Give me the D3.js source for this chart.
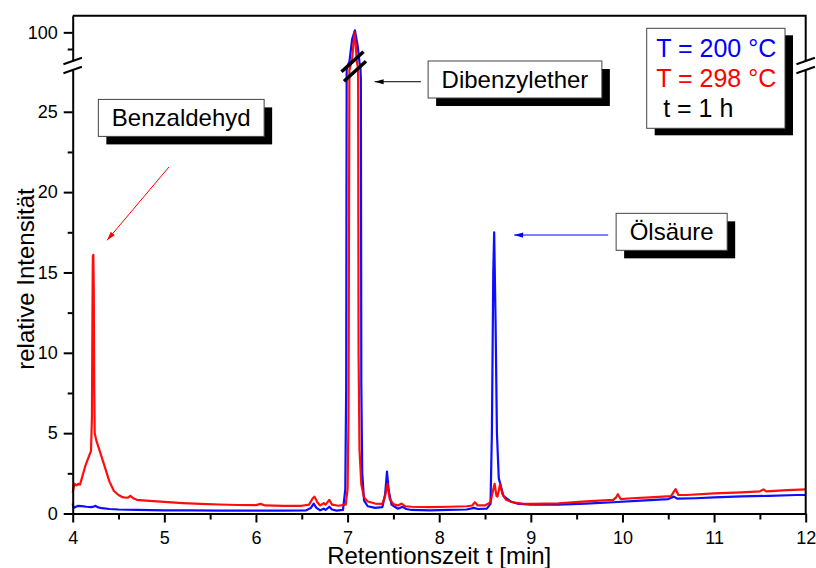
<!DOCTYPE html>
<html>
<head>
<meta charset="utf-8">
<script src="https://cdn.jsdelivr.net/npm/d3@7"></script>
<style>
  html, body { margin: 0; padding: 0; background: #fff; }
  svg { display: block; }
  text { font-family: "Liberation Sans", Arial, Helvetica, sans-serif; }
</style>
</head>
<body>
<svg id="chart" width="816" height="568"></svg>
<script>
// Retention time (min) and relative intensity, run at T = 200 °C
const t200 = [4.00, 4.01, 4.03, 4.06, 4.10, 4.15, 4.20, 4.23, 4.25, 4.27, 4.32, 4.40, 4.50, 4.70,
  5.00, 5.30, 5.60, 6.00, 6.30, 6.55, 6.60, 6.63, 6.66, 6.70, 6.74, 6.76, 6.80, 6.83, 6.88, 6.95,
  6.975, 6.985, 6.99, 7.00, 7.02, 7.05, 7.08, 7.11, 7.13, 7.14, 7.145, 7.15, 7.16, 7.18, 7.22,
  7.30, 7.38, 7.41, 7.43, 7.45, 7.48, 7.52, 7.55, 7.60, 7.64, 7.70, 7.90, 8.10, 8.30, 8.38, 8.42,
  8.52, 8.56, 8.575, 8.59, 8.60, 8.615, 8.63, 8.65, 8.70, 8.78, 8.85, 9.00, 9.30, 9.60, 9.90,
  10.20, 10.50, 10.56, 10.60, 10.80, 11.00, 11.30, 11.60, 11.90, 12.00];
const i200 = [0.62, 0.35, 0.40, 0.48, 0.46, 0.42, 0.40, 0.43, 0.48, 0.40, 0.33, 0.28, 0.25, 0.22,
  0.20, 0.19, 0.18, 0.18, 0.18, 0.20, 0.35, 0.62, 0.35, 0.20, 0.30, 0.22, 0.42, 0.25, 0.18, 0.22,
  1.5, 8, 28, 60, 90, 99, 100.3, 98, 85, 50, 27, 8, 2.5, 0.8, 0.45,
  0.35, 0.40, 1.2, 2.6, 1.4, 0.55, 0.40, 0.30, 0.42, 0.28, 0.22, 0.20, 0.22, 0.25, 0.35, 0.28,
  0.30, 0.6, 5, 15, 17.5, 12, 5, 2.2, 1.1, 0.75, 0.62, 0.55, 0.55, 0.62, 0.70,
  0.80, 0.90, 1.05, 0.92, 0.95, 1.00, 1.06, 1.10, 1.15, 1.15];

// Retention time (min) and relative intensity, run at T = 298 °C
const t298 = [4.00, 4.01, 4.02, 4.04, 4.06, 4.08, 4.10, 4.14, 4.18, 4.20, 4.21, 4.215, 4.22, 4.225,
  4.23, 4.235, 4.24, 4.26, 4.30, 4.35, 4.40, 4.45, 4.50, 4.55, 4.60, 4.63, 4.66, 4.70, 4.80,
  5.00, 5.20, 5.40, 5.60, 5.80, 6.00, 6.05, 6.10, 6.30, 6.50, 6.58, 6.62, 6.64, 6.67, 6.70, 6.74,
  6.76, 6.80, 6.83, 6.90, 6.98, 7.00, 7.01, 7.02, 7.035, 7.05, 7.075, 7.09, 7.10, 7.11, 7.115,
  7.12, 7.13, 7.15, 7.18, 7.22, 7.30, 7.38, 7.41, 7.435, 7.46, 7.50, 7.55, 7.59, 7.63, 7.70,
  7.90, 8.10, 8.30, 8.36, 8.39, 8.42, 8.50, 8.56, 8.59, 8.605, 8.625, 8.635, 8.65, 8.665, 8.69,
  8.73, 8.80, 8.90, 9.00, 9.30, 9.60, 9.90, 9.93, 9.95, 9.98, 10.10, 10.30, 10.53, 10.56, 10.58,
  10.61, 10.70, 11.00, 11.30, 11.50, 11.54, 11.57, 11.80, 12.00];
const i298 = [1.3, 1.6, 1.85, 1.75, 1.85, 1.8, 2.2, 3.0, 3.6, 3.9, 6, 12, 16, 16.1,
  14, 8, 5, 4.5, 3.8, 2.9, 2.0, 1.4, 1.15, 1.0, 0.98, 1.1, 0.95, 0.85, 0.80,
  0.72, 0.65, 0.60, 0.56, 0.53, 0.52, 0.60, 0.50, 0.48, 0.48, 0.55, 0.95, 1.05, 0.70, 0.50, 0.65,
  0.55, 0.85, 0.55, 0.48, 0.55, 1.5, 6, 28, 70, 96, 100, 98, 92, 60, 28,
  10, 4, 1.8, 1.0, 0.75, 0.62, 0.60, 1.1, 1.85, 0.9, 0.58, 0.50, 0.62, 0.45, 0.42,
  0.40, 0.42, 0.45, 0.50, 0.70, 0.50, 0.50, 0.70, 1.5, 1.85, 1.1, 1.05, 1.4, 1.85, 1.2,
  0.85, 0.70, 0.62, 0.60, 0.63, 0.75, 0.85, 1.0, 1.2, 0.9, 0.95, 1.0, 1.08, 1.35, 1.52,
  1.15, 1.15, 1.25, 1.32, 1.38, 1.5, 1.38, 1.45, 1.50];

// Axis ticks
const xTicks = [4, 5, 6, 7, 8, 9, 10, 11, 12];
const xMinor = [4.5, 5.5, 6.5, 7.5, 8.5, 9.5, 10.5, 11.5];
const yTicksLow = [0, 5, 10, 15, 20, 25];
const yMinorLow = [2.5, 7.5, 12.5, 17.5, 22.5];
const yTicksHigh = [100];
const yMinorHigh = [97.5];

// Broken y axis: lower and upper segment domains
const lowSeg = [0, 27.6];
const highSeg = [95.7, 102.5];

// Peak labels (box top-left corner in data units) and arrows (from -> to)
const labels = [
  { text: "Benzaldehyd", x: 4.28, y: 25.77, color: "#ff0000", arrow: [[5.05, 21.56], [4.374, 17.0]] },
  { text: "Dibenzylether", x: 7.879, y: 28.16, color: "#000000", arrow: [[7.80, 26.87], [7.295, 26.87]] },
  { text: "Ölsäure", x: 9.931, y: 18.68, color: "#0000ff", arrow: [[9.844, 17.33], [8.818, 17.33]] }
];
const legendLines = [
  { text: "T = 200 °C", color: "#0000ff", indent: 0 },
  { text: "T = 298 °C", color: "#ff0000", indent: 0 },
  { text: "t = 1 h", color: "#000000", indent: 7 }
];

const L = 72.7, R = 805.7, T = 15.7, B = 513.5;
const gapBottom = 70, gapTop = 61;

const svg = d3.select("#chart");

const x = d3.scaleLinear().domain([4, 12]).range([L, R]);
const yLow = d3.scaleLinear().domain(lowSeg).range([B, gapBottom]);
const yHigh = d3.scaleLinear().domain(highSeg).range([gapTop, T]);
const yGap = d3.scaleLinear().domain([lowSeg[1], highSeg[0]]).range([gapBottom, gapTop]);
const y = v => v <= lowSeg[1] ? yLow(v) : (v >= highSeg[0] ? yHigh(v) : yGap(v));

// Curves
const line = d3.line().x(d => x(d[0])).y(d => y(d[1]));
const series = [
  { t: t200, v: i200, color: "#0000ff" },
  { t: t298, v: i298, color: "#ff0000" }
];
series.forEach(s => {
  svg.append("path")
    .datum(s.t.map((t, i) => [t, s.v[i]]))
    .attr("d", line)
    .attr("fill", "none")
    .attr("stroke", s.color)
    .attr("stroke-width", 2.2)
    .attr("stroke-linejoin", "round")
    .attr("stroke-opacity", 0.95);
});

// Axes
const fmt = d3.format("d");
function styleAxis(g) {
  g.selectAll("path, line").attr("stroke", "#000").attr("stroke-width", 2);
  g.selectAll("text").attr("font-size", 18).attr("fill", "#000")
    .attr("font-family", "'Liberation Sans', Arial, sans-serif");
}

svg.append("g").attr("transform", `translate(${L},0)`)
  .call(d3.axisLeft(yLow).tickValues(yTicksLow).tickFormat(fmt).tickSize(9).tickPadding(6).tickSizeOuter(0))
  .call(styleAxis);
svg.append("g").attr("transform", `translate(${L},0)`)
  .call(d3.axisLeft(yLow).tickValues(yMinorLow).tickSize(5).tickFormat(""))
  .call(g => g.select(".domain").remove())
  .call(styleAxis);
svg.append("g").attr("transform", `translate(${L},0)`)
  .call(d3.axisLeft(yHigh).tickValues(yTicksHigh).tickFormat(fmt).tickSize(9).tickPadding(6).tickSizeOuter(0))
  .call(styleAxis);
svg.append("g").attr("transform", `translate(${L},0)`)
  .call(d3.axisLeft(yHigh).tickValues(yMinorHigh).tickSize(5).tickFormat(""))
  .call(g => g.select(".domain").remove())
  .call(styleAxis);

svg.append("g").attr("transform", `translate(0,${B})`)
  .call(d3.axisBottom(x).tickValues(xTicks).tickFormat(fmt).tickSize(9).tickPadding(9).tickSizeOuter(0))
  .call(styleAxis);
svg.append("g").attr("transform", `translate(0,${B})`)
  .call(d3.axisBottom(x).tickValues(xMinor).tickSize(6).tickFormat(""))
  .call(g => g.select(".domain").remove())
  .call(styleAxis);

// Frame: top and right edges (right edge broken like the y axis)
const frame = svg.append("g").attr("stroke", "#000").attr("stroke-width", 2).attr("fill", "none");
frame.append("path").attr("d", `M${L},${T}H${R}V${gapTop}M${R},${gapBottom}V${B}`);

// Break marks on both vertical axes
function breakMarks(cx, w, lean, sw) {
  [gapTop, gapBottom].forEach(cy => {
    svg.append("line")
      .attr("x1", cx - w / 2).attr("y1", cy + lean / 2)
      .attr("x2", cx + w / 2).attr("y2", cy - lean / 2)
      .attr("stroke", "#000").attr("stroke-width", sw);
  });
}
breakMarks(L, 18.5, 6.4, 2);
breakMarks(R, 18.5, 6.4, 2);

// Break marks across the main peak
[[352.5, gapTop + 0.7], [355, gapBottom + 1.2]].forEach(([cx, cy]) => {
  svg.append("line")
    .attr("x1", cx - 11).attr("y1", cy + 10)
    .attr("x2", cx + 11).attr("y2", cy - 10)
    .attr("stroke", "#000").attr("stroke-width", 3.5);
});

// Arrow helper
function arrow(x1, y1, x2, y2, color) {
  svg.append("line")
    .attr("x1", x1).attr("y1", y1).attr("x2", x2).attr("y2", y2)
    .attr("stroke", color).attr("stroke-width", 1);
  const a = Math.atan2(y2 - y1, x2 - x1);
  const len = 9, hw = 2.6;
  const bx = x2 - len * Math.cos(a), by = y2 - len * Math.sin(a);
  const px = -Math.sin(a) * hw, py = Math.cos(a) * hw;
  svg.append("polygon")
    .attr("points", `${x2},${y2} ${bx + px},${by + py} ${bx - px},${by - py}`)
    .attr("fill", color);
}

// Boxed label helper with drop shadow
function boxedText(left, top, text, size) {
  const g = svg.append("g");
  const shadow = g.append("rect").attr("fill", "#000");
  const box = g.append("rect").attr("fill", "#fff").attr("stroke", "#444").attr("stroke-width", 1);
  const label = g.append("text").attr("font-size", size).attr("fill", "#000").text(text);
  const w = label.node().getComputedTextLength() + 27;
  const h = 37;
  label.attr("x", left + 13.5).attr("y", top + 26.5);
  shadow.attr("x", left + 8).attr("y", top + 8).attr("width", w).attr("height", h);
  box.attr("x", left).attr("y", top).attr("width", w).attr("height", h);
}

labels.forEach(d => {
  const [[ax1, ay1], [ax2, ay2]] = d.arrow;
  arrow(x(ax1), yLow(ay1), x(ax2), yLow(ay2), d.color);
  boxedText(x(d.x), yLow(d.y), d.text, 24);
});

// Legend box
const lg = svg.append("g");
const lgLeft = 646.7, lgTop = 28.3, lgW = 138.3, lgH = 100;
lg.append("rect").attr("x", lgLeft + 8).attr("y", lgTop + 7).attr("width", lgW).attr("height", lgH).attr("fill", "#000");
lg.append("rect").attr("x", lgLeft).attr("y", lgTop).attr("width", lgW).attr("height", lgH)
  .attr("fill", "#fff").attr("stroke", "#444").attr("stroke-width", 1);
legendLines.forEach((d, i) => {
  lg.append("text")
    .attr("x", lgLeft + 9.5 + d.indent)
    .attr("y", lgTop + 28.4 + i * 30)
    .attr("font-size", 25)
    .attr("fill", d.color)
    .text(d.text);
});

// Axis titles
svg.append("text")
  .attr("x", (L + R) / 2).attr("y", 564)
  .attr("text-anchor", "middle").attr("font-size", 24)
  .text("Retentionszeit t [min]");
svg.append("text")
  .attr("transform", `translate(34,279) rotate(-90)`)
  .attr("text-anchor", "middle").attr("font-size", 24)
  .text("relative Intensität");
</script>
</body>
</html>
